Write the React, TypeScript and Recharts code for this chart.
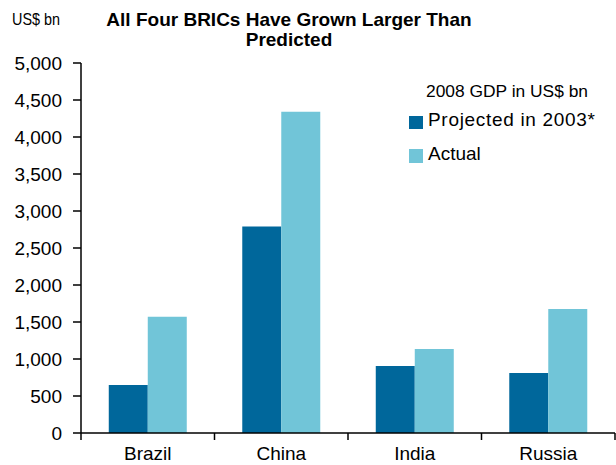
import { BarChart, Bar, XAxis, YAxis } from "recharts";

// values (US$ bn, 2008 GDP)
const countries = ["Brazil", "China", "India", "Russia"];
const projectedIn2003 = [650, 2790, 905, 810];
const actualGdp = [1570, 4340, 1135, 1675];
const yTicks = [0, 500, 1000, 1500, 2000, 2500, 3000, 3500, 4000, 4500, 5000];

const titleLines = ["All Four BRICs Have Grown Larger Than", "Predicted"];
const unitLabel = "US$ bn";
const legendTitle = "2008 GDP in US$ bn";
const seriesNames = ["Projected in 2003*", "Actual"];

const DARK = "#00679B";
const LIGHT = "#71C5D8";
const FONT = "'Liberation Sans', Arial, sans-serif";

const W = 616;
const H = 465;
const PLOT_LEFT = 81;
const PLOT_RIGHT = 615;
const BAND = (PLOT_RIGHT - PLOT_LEFT) / countries.length;

const data = countries.map((country, i) => ({
  country,
  projected: projectedIn2003[i],
  actual: actualGdp[i],
}));

function CountryTick(props: any) {
  const { x, y, payload, index } = props;
  const half = BAND / 2;
  return (
    <g>
      <line x1={x - half} x2={x - half} y1={y} y2={y + 7} stroke="#000" strokeWidth={1.5} />
      {index === countries.length - 1 && (
        <line x1={x + half} x2={x + half} y1={y} y2={y + 7} stroke="#000" strokeWidth={1.5} />
      )}
      <text x={x} y={y + 27} textAnchor="middle" fill="#000" fontSize={19} fontFamily={FONT}>
        {payload.value}
      </text>
    </g>
  );
}

export default function App() {
  return (
    <div style={{ position: "absolute", left: 0, top: 0, width: W, height: H, background: "#fff" }}>
      <BarChart
        width={W}
        height={H}
        data={data}
        margin={{ top: 63, right: 1, bottom: 0, left: 0 }}
        barCategoryGap="20.8%"
        barGap={0}
      >
        <XAxis
          dataKey="country"
          height={32}
          interval={0}
          tickSize={0}
          tickMargin={0}
          tickLine={false}
          tick={<CountryTick />}
          axisLine={{ stroke: "#000", strokeWidth: 1.5 }}
        />
        <XAxis
          xAxisId="top"
          orientation="top"
          dataKey="country"
          height={0}
          tick={false}
          tickLine={false}
          axisLine={{ stroke: "#000", strokeWidth: 1.5 }}
        />
        <YAxis
          width={81}
          domain={[0, 5000]}
          ticks={yTicks}
          interval={0}
          tickSize={8}
          tickMargin={11}
          tickFormatter={(v: number) => v.toLocaleString("en-US")}
          tick={{ fill: "#000", fontSize: 19, fontFamily: FONT }}
          tickLine={{ stroke: "#000", strokeWidth: 1.5 }}
          axisLine={{ stroke: "#000", strokeWidth: 1.5 }}
        />
        <YAxis
          yAxisId="right"
          orientation="right"
          width={0}
          domain={[0, 5000]}
          tick={false}
          tickLine={false}
          axisLine={{ stroke: "#000", strokeWidth: 1.5 }}
        />
        <Bar dataKey="projected" name={seriesNames[0]} fill={DARK} isAnimationActive={false} />
        <Bar dataKey="actual" name={seriesNames[1]} fill={LIGHT} isAnimationActive={false} />
      </BarChart>

      {/* title, unit and legend drawn on top */}
      <svg
        width={W}
        height={H}
        style={{ position: "absolute", left: 0, top: 0, pointerEvents: "none" }}
        fontFamily={FONT}
      >
        <text x={12} y={25} fontSize={17} textLength={48} lengthAdjust="spacingAndGlyphs" fill="#000">
          {unitLabel}
        </text>
        <text x={289} y={26} textAnchor="middle" fontSize={19} fontWeight="bold" fill="#000">
          {titleLines[0]}
        </text>
        <text x={289} y={46} textAnchor="middle" fontSize={19} fontWeight="bold" fill="#000">
          {titleLines[1]}
        </text>

        <text x={426} y={97} fontSize={16} textLength={162} lengthAdjust="spacingAndGlyphs" fill="#000">
          {legendTitle}
        </text>
        <rect x={409} y={116} width={14} height={13} fill={DARK} />
        <text x={428} y={126} fontSize={19} textLength={167} fill="#000">
          {seriesNames[0]}
        </text>
        <rect x={409} y={149} width={14} height={14} fill={LIGHT} />
        <text x={428} y={160} fontSize={19} fill="#000">
          {seriesNames[1]}
        </text>
      </svg>
    </div>
  );
}
